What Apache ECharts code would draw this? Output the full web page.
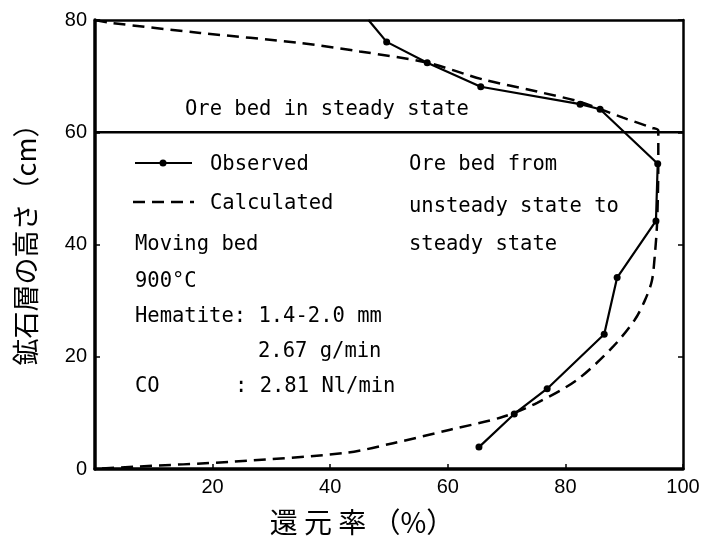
<!DOCTYPE html>
<html><head><meta charset="utf-8">
<script src="https://cdn.jsdelivr.net/npm/echarts@6/dist/echarts.min.js"></script>
<style>html,body{margin:0;padding:0;background:#fff}#c{width:707px;height:543px}</style>
</head><body><div id="c"></div>
<script>
// Observed (solid with dots): reduction ratio (%) vs. ore bed height (cm)
const obsX = [46.5, 49.6, 56.5, 65.6, 82.5, 85.9, 95.7, 95.4, 88.8, 86.6, 76.9, 71.3, 65.3];
const obsY = [80.0, 76.1, 72.4, 68.1, 65.0, 64.1, 54.4, 44.2, 34.1, 24.0, 14.3, 9.8, 3.9];
// Calculated (dashed)
const calX = [0, 2.6, 17.9, 34.9, 45.0, 56.5, 66.0, 75.0, 82.5, 89.8, 94.7, 95.8, 95.8, 95.6, 95.2, 94.7, 93.5, 91.8, 88.1, 82.0, 75.2, 69.4, 60.4, 50.7, 42.8, 23.5, 6.5, 0];
const calY = [80, 79.5, 77.7, 75.9, 74.4, 72.4, 69.4, 67.3, 65.4, 62.6, 60.8, 60.3, 55.0, 44.0, 38.0, 33.5, 30.0, 26.6, 21.8, 15.9, 11.8, 9.3, 7.0, 4.6, 2.9, 1.3, 0.4, 0];
// Boundary between steady and unsteady ore bed
const boundX = [0, 100];
const boundY = [60, 60];
const xTicks = [0, 20, 40, 60, 80, 100];
const yTicks = [0, 20, 40, 60, 80];

const chart = echarts.init(document.getElementById('c'), null, {renderer: 'canvas'});
const mono = 'DejaVu Sans Mono';
const sans = 'Liberation Sans';
const txt = (x, y, s, extra) => Object.assign({type: 'text', left: x, top: y, style: {text: s, font: '20.5px "' + mono + '"', fill: '#000'}}, extra || {});

const obsData = obsX.map((x, i) => i === 0 ? {value: [x, obsY[i]], symbolSize: 0} : [x, obsY[i]]);
const calData = calX.map((x, i) => [x, calY[i]]);
const boundData = boundX.map((x, i) => [x, boundY[i]]);

chart.setOption({
  animation: false,
  backgroundColor: '#fff',
  grid: {left: 95, right: 24, top: 20, bottom: 74, containLabel: false},
  xAxis: [{
    type: 'value', min: 0, max: 100, interval: 20,
    axisLine: {show: true, onZero: false, lineStyle: {color: '#000', width: 3.5}},
    axisTick: {show: true, inside: true, length: 5, lineStyle: {color: '#000', width: 1.5}},
    axisLabel: {color: '#000', fontFamily: sans, fontSize: 20, margin: 8,
      formatter: v => (xTicks.indexOf(v) > 0 ? String(v) : '')},
    splitLine: {show: false}
  }, {
    type: 'value', min: 0, max: 100, position: 'top',
    axisLine: {show: true, onZero: false, lineStyle: {color: '#000', width: 2.5}},
    axisTick: {show: false}, axisLabel: {show: false}, splitLine: {show: false}
  }],
  yAxis: [{
    type: 'value', min: 0, max: 80, interval: 20,
    axisLine: {show: true, onZero: false, lineStyle: {color: '#000', width: 3.5}},
    axisTick: {show: true, inside: true, length: 5, lineStyle: {color: '#000', width: 1.5}},
    axisLabel: {color: '#000', fontFamily: sans, fontSize: 20, margin: 8,
      formatter: v => (yTicks.indexOf(v) >= 0 ? String(v) : '')},
    splitLine: {show: false}
  }, {
    type: 'value', min: 0, max: 80, interval: 20, position: 'right',
    axisLine: {show: true, onZero: false, lineStyle: {color: '#000', width: 2.5}},
    axisTick: {show: true, inside: true, length: 5, lineStyle: {color: '#000', width: 1.5}},
    axisLabel: {show: false}, splitLine: {show: false}
  }],
  series: [{
    type: 'line', data: boundData, symbol: 'none', silent: true,
    lineStyle: {color: '#000', width: 2.5}
  }, {
    name: 'Calculated', type: 'line', data: calData, symbol: 'none', smooth: 0.3,
    lineStyle: {color: '#000', width: 2.5, type: [12, 7]}
  }, {
    name: 'Observed', type: 'line', data: obsData, symbol: 'circle', symbolSize: 7,
    itemStyle: {color: '#000'},
    lineStyle: {color: '#000', width: 2.2}
  }],
  graphic: [
    txt(185, 99, 'Ore bed in steady state'),
    {type: 'line', shape: {x1: 135, y1: 163, x2: 192, y2: 163}, style: {stroke: '#000', lineWidth: 2.2}},
    {type: 'circle', shape: {cx: 163, cy: 163, r: 3.5}, style: {fill: '#000'}},
    txt(210, 154, 'Observed'),
    {type: 'line', shape: {x1: 133, y1: 202, x2: 194, y2: 202}, style: {stroke: '#000', lineWidth: 2.5, lineDash: [12, 7]}},
    txt(210, 193, 'Calculated'),
    txt(135, 234, 'Moving bed'),
    txt(135, 271, '900°C'),
    txt(135, 306, 'Hematite: 1.4-2.0 mm'),
    txt(258, 341, '2.67 g/min'),
    txt(135, 376, 'CO'),
    txt(235, 376, ': 2.81 Nl/min'),
    txt(409, 154, 'Ore bed from'),
    txt(409, 196, 'unsteady state to'),
    txt(409, 234, 'steady state'),
    {type: 'text', x: 26, y: 238, rotation: Math.PI / 2, style: {text: '鉱石層の高さ（cm）', font: '27px "Noto Sans CJK JP"', fill: '#000', align: 'center', verticalAlign: 'middle'}},
    {type: 'text', x: 362, y: 522, style: {text: '還 元 率 （%）', font: '28px "Noto Sans CJK JP"', fill: '#000', align: 'center', verticalAlign: 'middle'}}
  ]
});
</script></body></html>
